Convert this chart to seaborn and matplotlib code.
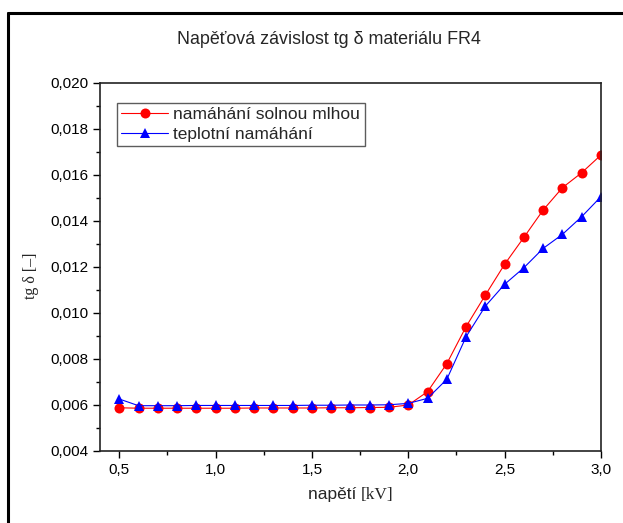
import numpy as np
import pandas as pd
import matplotlib
matplotlib.use("Agg")
import matplotlib.pyplot as plt
import matplotlib.ticker as mticker
from matplotlib.lines import Line2D
import seaborn as sns

# napeti [kV]
napeti = [0.5, 0.6, 0.7, 0.8, 0.9, 1.0, 1.1, 1.2, 1.3, 1.4, 1.5, 1.6, 1.7,
          1.8, 1.9, 2.0, 2.1, 2.2, 2.3, 2.4, 2.5, 2.6, 2.7, 2.8, 2.9, 3.0]
# tg delta - namahani solnou mlhou
solna_mlha = [0.00588, 0.00586, 0.00586, 0.00586, 0.00586, 0.00586, 0.00586,
              0.00587, 0.00587, 0.00587, 0.00587, 0.00588, 0.00588, 0.00589,
              0.00590, 0.00600, 0.00658, 0.00780, 0.00941, 0.01078, 0.01212,
              0.01329, 0.01448, 0.01545, 0.01610, 0.01687]
# tg delta - teplotni namahani
teplota = [0.00626, 0.00597, 0.00597, 0.00597, 0.00598, 0.00598, 0.00598,
           0.00598, 0.00598, 0.00598, 0.00599, 0.00599, 0.00600, 0.00600,
           0.00601, 0.00607, 0.00629, 0.00712, 0.00897, 0.01030, 0.01125,
           0.01197, 0.01281, 0.01342, 0.01419, 0.01506]

nazvy = ["namáhání solnou mlhou", "teplotní namáhání"]

df = pd.DataFrame({
    "napeti": napeti + napeti,
    "tg": solna_mlha + teplota,
    "serie": [nazvy[0]] * len(napeti) + [nazvy[1]] * len(napeti),
})

sns.set_style("ticks")
plt.rcParams["font.family"] = ["Liberation Sans", "DejaVu Sans"]

fig = plt.figure(figsize=(6.23, 5.23), dpi=100)
ax = fig.add_axes([100 / 623, 1 - 451 / 523, 501 / 623, 368 / 523])

sns.lineplot(data=df, x="napeti", y="tg", hue="serie", style="serie",
             palette={nazvy[0]: "red", nazvy[1]: "blue"},
             markers={nazvy[0]: "o", nazvy[1]: "^"}, dashes=False,
             markersize=7.2, markeredgewidth=0, linewidth=0.8,
             legend=False, ax=ax)

ax.set_xlim(0.4, 3.0)
ax.set_ylim(0.004, 0.020)
ax.xaxis.set_major_locator(mticker.MultipleLocator(0.5))
ax.xaxis.set_minor_locator(mticker.MultipleLocator(0.25))
ax.yaxis.set_major_locator(mticker.MultipleLocator(0.002))
ax.yaxis.set_minor_locator(mticker.MultipleLocator(0.001))
ax.xaxis.set_major_formatter(mticker.FuncFormatter(lambda v, p: f"{v:.1f}".replace(".", ",")))
ax.yaxis.set_major_formatter(mticker.FuncFormatter(lambda v, p: f"{v:.3f}".replace(".", ",")))
ax.tick_params(which="major", direction="out", length=5, width=1, labelsize=11, colors="black")
ax.tick_params(which="minor", direction="out", length=3, width=1, colors="black")
ax.tick_params(axis="x", which="both", top=False)
ax.tick_params(axis="y", which="both", right=False)
for s in ax.spines.values():
    s.set_linewidth(1.2)
    s.set_color("#222222")
    s.set_visible(True)

ax.set_xlabel("")
ax.set_ylabel("")

# popisky os
fig.text(31 / 623, 1 - 276 / 523, "tg δ [–]", rotation=90, ha="center", va="center",
         fontsize=11.5, family=["Liberation Serif", "DejaVu Serif"])
fig.text(361 / 623, 1 - 495 / 523, "napětí ", ha="right", va="center", fontsize=12.5)
fig.text(361 / 623, 1 - 495 / 523, "[kV]", ha="left", va="center", fontsize=12.5,
         family=["Liberation Serif", "DejaVu Serif"])
fig.text(329 / 623, 1 - 40 / 523, "Napěťová závislost tg δ materiálu FR4",
         ha="center", va="center", fontsize=12.9)

# legenda
handles = [
    Line2D([], [], color="red", marker="o", markersize=7.2, markeredgewidth=0, linewidth=0.8),
    Line2D([], [], color="blue", marker="^", markersize=7.2, markeredgewidth=0, linewidth=0.8),
]
leg = ax.legend(handles, nazvy, loc="upper left", bbox_to_anchor=(17 / 501, 1 - 20 / 368),
                frameon=True, fancybox=False, fontsize=12.5, handlelength=2.7,
                handletextpad=0.3, borderpad=0.25, labelspacing=0.25, borderaxespad=0)
leg.get_frame().set_edgecolor("#333333")
leg.get_frame().set_linewidth(1.0)

# ramecek kolem obrazku (jen vlevo a nahore)
fig.add_artist(Line2D([8 / 623, 8 / 623], [0, 1 - 13 / 523], transform=fig.transFigure,
                      color="black", linewidth=2.2))
fig.add_artist(Line2D([8 / 623, 1], [1 - 13 / 523, 1 - 13 / 523], transform=fig.transFigure,
                      color="black", linewidth=2.2))

fig.savefig("out.png", dpi=100)
